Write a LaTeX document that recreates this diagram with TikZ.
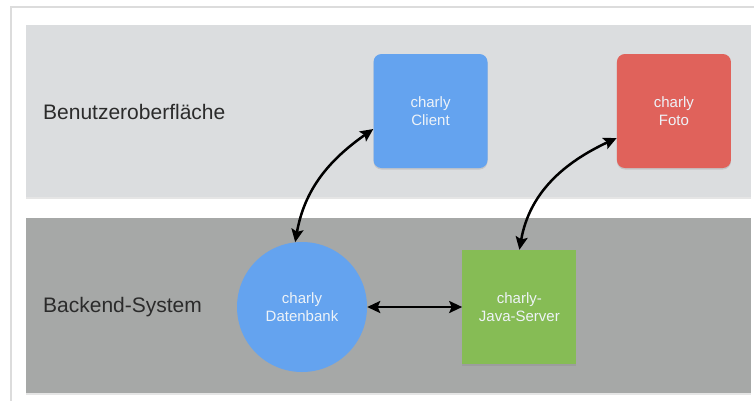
\documentclass[tikz,border=0pt]{standalone}
\usepackage{fontspec}
\setmainfont{Liberation Sans}
\usetikzlibrary{positioning,arrows.meta,shadows}

\definecolor{bandtop}{HTML}{DBDDDF}
\definecolor{bandbot}{HTML}{A6A8A7}
\definecolor{cblue}{HTML}{64A3EF}
\definecolor{cred}{HTML}{E0625B}
\definecolor{cgreen}{HTML}{86BC55}
\definecolor{ctext}{HTML}{EEF3F8}
\definecolor{cframe}{HTML}{DCDCDC}
\definecolor{clabel}{HTML}{2B2B2B}

\tikzset{
  box/.style={minimum width=114pt, minimum height=114pt, inner sep=0pt,
    align=center, text=ctext, font=\fontsize{15}{17.5}\selectfont,
    drop shadow={shadow xshift=0pt, shadow yshift=-1.5pt, opacity=0.25}},
  dbcircle/.style={circle, fill=cblue, minimum size=130pt, inner sep=0pt,
    align=center, text=ctext, font=\fontsize{15}{17.5}\selectfont},
  layer/.style={anchor=west, inner sep=0pt, text=clabel, font=\fontsize{21}{24}\selectfont},
  conn/.style={<->, >={Stealth[length=13pt,width=12pt,inset=2.5pt]}, line width=2.5pt},
  band/.style={drop shadow={shadow xshift=0pt, shadow yshift=-1.5pt, opacity=0.2}}
}

\begin{document}
\begin{tikzpicture}[x=1pt, y=1pt, node distance=95pt]

    \useasboundingbox (0,0) rectangle (754,-400);
    \fill[white] (0,0) rectangle (754,-400);
    \draw[cframe, line width=1.2pt] (11,-7) rectangle (790,-430);

    % Ebenen
    \fill[bandtop, band] (26,-25) rectangle (751,-197);
    \fill[bandbot, band] (26,-218) rectangle (751,-393);

    \node (10) [layer] at (43,-112) {Benutzeroberfläche};
    \node (20) [layer] at (43,-307) {Backend-System};

    \node (11) [box, fill=cblue, rounded corners=8pt] at (430.5,-111) {charly\\Client};
    \node (12) [box, fill=cred, rounded corners=8pt, right=129pt of 11] {charly\\Foto};
    \node (21) [dbcircle] at (302,-307) {charly\\Datenbank};
    \node (22) [box, fill=cgreen, right=of 21] {charly-\\Java-Server};

    \draw[conn] (21.96) to[out=80, in=215] ([yshift=-18pt]11.west);
    \draw[conn] (22.north) to[out=80, in=205] ([yshift=-27pt]12.west);
    \draw[conn] (21.east) -- (22.west);

\end{tikzpicture}
\end{document}
